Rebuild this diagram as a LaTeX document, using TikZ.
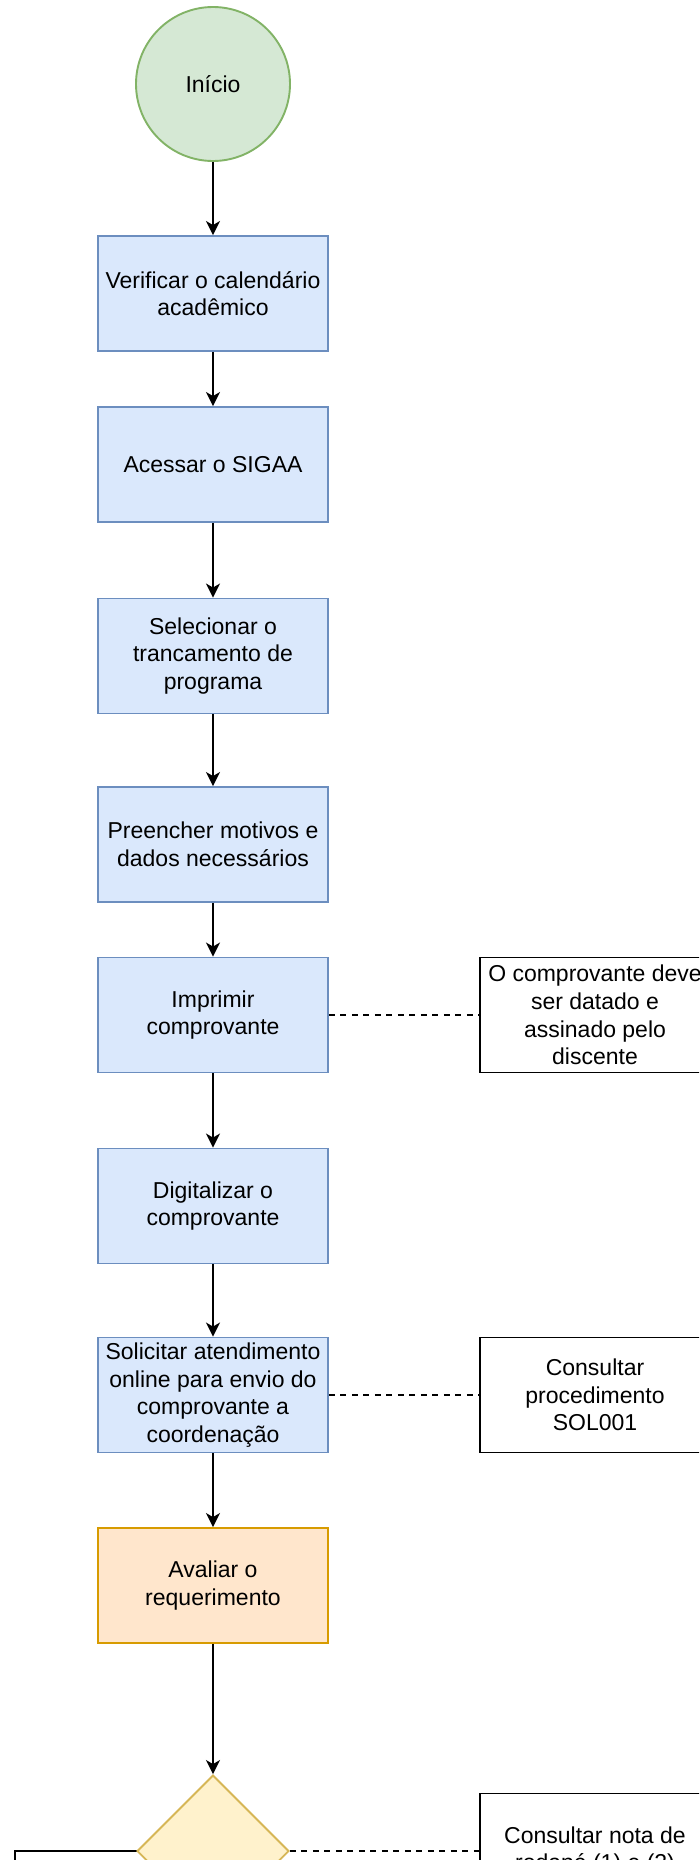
\documentclass[tikz,border=0pt]{standalone}
\usepackage{fontspec}
\setmainfont{Liberation Sans}
\usetikzlibrary{shapes.geometric,arrows.meta}
\definecolor{verdeF}{HTML}{D5E8D4}\definecolor{verdeB}{HTML}{82B366}
\definecolor{azulF}{HTML}{DAE8FC}\definecolor{azulB}{HTML}{6C8EBF}
\definecolor{laranjaF}{HTML}{FFE6CC}\definecolor{laranjaB}{HTML}{D79B00}
\definecolor{amareloF}{HTML}{FFF2CC}\definecolor{amareloB}{HTML}{D6B656}
\begin{document}
\begin{tikzpicture}[x=1pt,y=-1pt,line width=1.9pt,
  every node/.style={font=\fontsize{23}{27.6}\selectfont,align=center,inner sep=0pt},
  etapa/.style={draw=azulB,fill=azulF,minimum width=230pt,minimum height=115pt},
  nota/.style={draw=black,fill=white,minimum width=230pt,minimum height=115pt},
  seta/.style={-{Stealth[length=14pt,width=14pt,inset=4pt]}},
  tracejado/.style={dash pattern=on 5.75pt off 5.75pt}]
\useasboundingbox (0,0) rectangle (699,1860);
\clip (0,0) rectangle (699,1860);
% fluxo principal
\node[circle,draw=verdeB,fill=verdeF,minimum size=154pt] (ini) at (213,84) {In\'icio};
\node[etapa] (b1) at (213,293.5) {Verificar o calendário\\acadêmico};
\node[etapa] (b2) at (213,464.5) {Acessar o SIGAA};
\node[etapa] (b3) at (213,656) {Selecionar o\\trancamento de\\programa};
\node[etapa] (b4) at (213,844.5) {Preencher motivos e\\dados necessários};
\node[etapa] (b5) at (213,1015) {Imprimir\\comprovante};
\node[etapa] (b6) at (213,1206) {Digitalizar o\\comprovante};
\node[etapa] (b7) at (213,1395) {Solicitar atendimento\\online para envio do\\comprovante a\\coordenação};
\node[etapa,draw=laranjaB,fill=laranjaF] (b8) at (213,1585.5) {Avaliar o\\requerimento};
\node[nota] (esq) at (130,1908.5) {};
\node[diamond,draw=amareloB,fill=amareloF,minimum width=152pt,minimum height=152pt] (dec) at (213,1851) {};
% notas
\node[nota] (n1) at (595,1015) {O comprovante deve\\ser datado e\\assinado pelo\\discente};
\node[nota] (n2) at (595,1395) {Consultar\\procedimento\\SOL001};
\node[nota] (n3) at (595,1851) {Consultar nota de\\rodapé (1) e (2)};
\foreach \a/\b in {ini/b1,b1/b2,b2/b3,b3/b4,b4/b5,b5/b6,b6/b7,b7/b8,b8/dec}
  \draw[seta] (\a) -- (\b);
\foreach \a/\b in {b5/n1,b7/n2,dec/n3}
  \draw[tracejado] (\a) -- (\b);
\end{tikzpicture}
\end{document}
